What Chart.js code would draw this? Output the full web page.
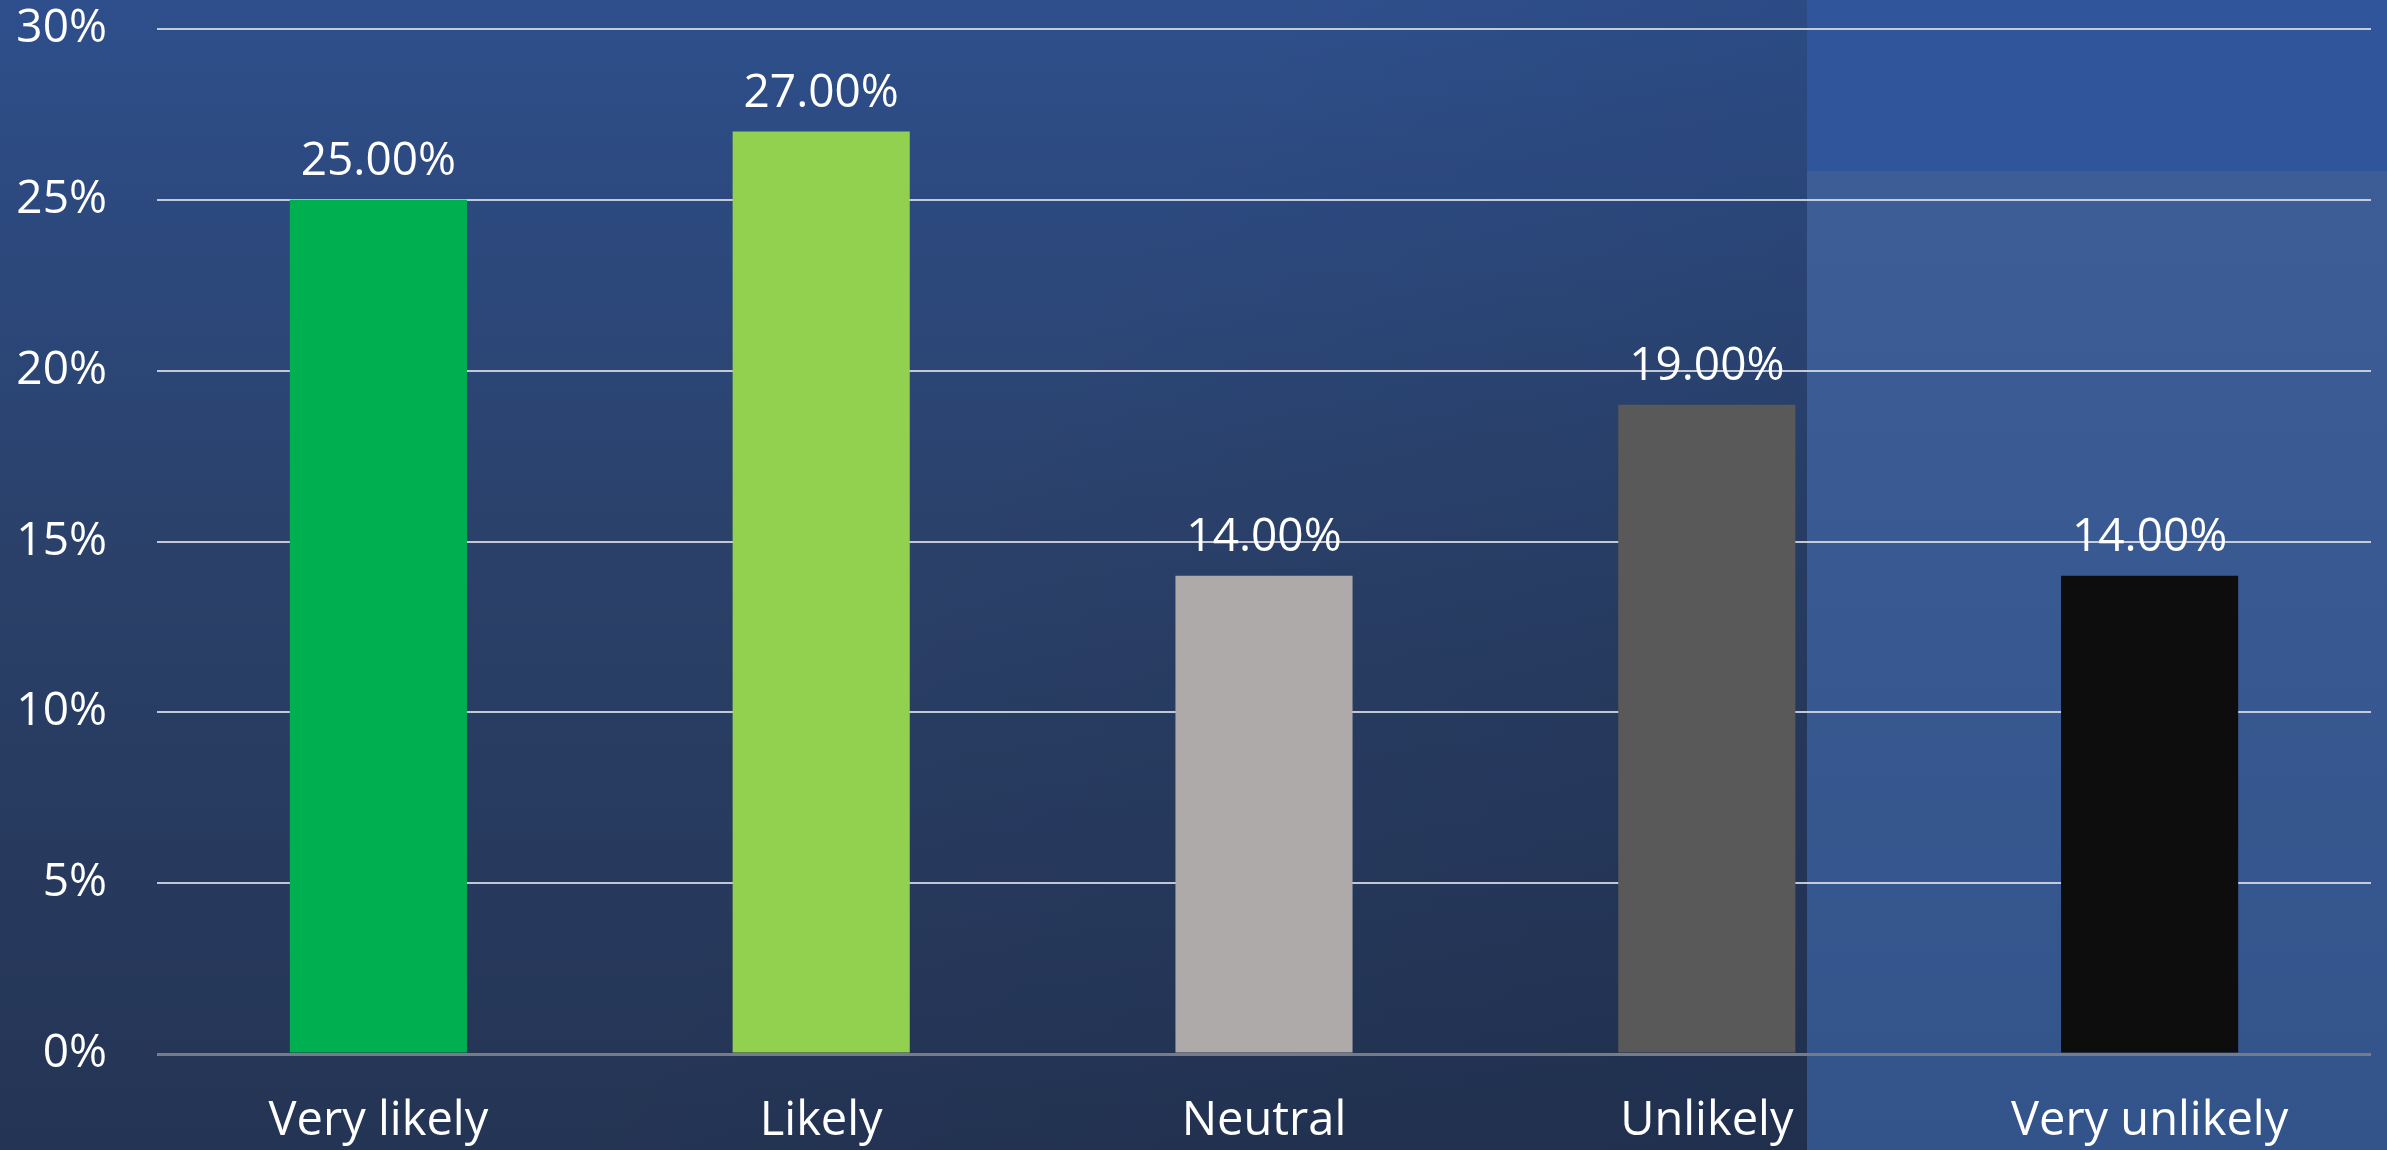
<!DOCTYPE html>
<html>
<head>
<meta charset="utf-8">
<script src="https://cdn.jsdelivr.net/npm/chart.js@4/dist/chart.umd.min.js"></script>
<style>
  html, body { margin: 0; padding: 0; overflow: hidden; background: #263a60; }
  #wrap { position: relative; width: 2387px; height: 1150px; }
</style>
</head>
<body>
<div id="wrap"><canvas id="grafico"></canvas></div>
<script>
// dados do gráfico
const categorias = ["Very likely", "Likely", "Neutral", "Unlikely", "Very unlikely"];
const percentuais = [25, 27, 14, 19, 14];
const coresBarras = ["#00b050", "#92d050", "#aeaaaa", "#595959", "#0d0d0d"];
const ticksY = [0, 5, 10, 15, 20, 25, 30];

const fonte = "'Open Sans', sans-serif";

// fundo azul com painel mais claro à direita
const fundo = {
  id: "fundo",
  beforeDraw(chart) {
    const ctx = chart.ctx, w = chart.width, h = chart.height;
    const corte = 1807;
    ctx.save();
    let g = ctx.createLinearGradient(0, 0, 0, h);
    g.addColorStop(0, "#2e4f8c");
    g.addColorStop(0.5, "#2a4068");
    g.addColorStop(1, "#243454");
    ctx.fillStyle = g;
    ctx.fillRect(0, 0, corte, h);
    // leve escurecimento para baixo/direita
    let g2 = ctx.createLinearGradient(0, 0, corte, h);
    g2.addColorStop(0, "rgba(10,20,40,0)");
    g2.addColorStop(0.5, "rgba(10,20,40,0)");
    g2.addColorStop(1, "rgba(10,20,40,0.15)");
    ctx.fillStyle = g2;
    ctx.fillRect(0, 0, corte, h);
    ctx.fillStyle = "#31559a";
    ctx.fillRect(corte, 0, w - corte, 171);
    let g3 = ctx.createLinearGradient(0, 171, 0, h);
    g3.addColorStop(0, "#3c5d96");
    g3.addColorStop(1, "#33538b");
    ctx.fillStyle = g3;
    ctx.fillRect(corte, 171, w - corte, h - 171);
    ctx.restore();
  }
};

// rótulos de valor em cima das barras
const rotulos = {
  id: "rotulos",
  afterDatasetsDraw(chart) {
    const ctx = chart.ctx;
    const meta = chart.getDatasetMeta(0);
    ctx.save();
    ctx.fillStyle = "#ffffff";
    ctx.font = "46px " + fonte;
    ctx.textAlign = "center";
    ctx.textBaseline = "alphabetic";
    meta.data.forEach((barra, i) => {
      ctx.fillText(percentuais[i].toFixed(2) + "%", barra.x, barra.y - 25);
    });
    ctx.restore();
  }
};

const config = {
  type: "bar",
  data: {
    labels: categorias,
    datasets: [{
      data: percentuais,
      backgroundColor: coresBarras,
      barPercentage: 0.4,
      categoryPercentage: 1.0
    }]
  },
  options: {
    responsive: true,
    maintainAspectRatio: false,
    animation: false,
    layout: { padding: { left: 13, right: 16, top: 29, bottom: 0 } },
    plugins: { legend: { display: false }, tooltip: { enabled: false } },
    scales: {
      x: {
        grid: { display: false, drawTicks: false },
        border: { display: false },
        ticks: { color: "#ffffff", font: { family: fonte, size: 47 }, padding: 39, maxRotation: 0 },
        afterFit(s) { s.paddingLeft = 0; s.paddingRight = 0; s.height = 96; }
      },
      y: {
        min: 0,
        max: 30,
        afterBuildTicks(scale) { scale.ticks = ticksY.map(v => ({ value: v })); },
        afterFit(s) { s.paddingTop = 0; s.paddingBottom = 0; s.width = 144; },
        grid: {
          drawTicks: false,
          color: c => c.tick.value === 0 ? "#767b88" : "rgba(222,224,230,0.85)",
          lineWidth: c => c.tick.value === 0 ? 3 : 2
        },
        border: { display: false },
        ticks: {
          color: "#ffffff",
          font: { family: fonte, size: 46 },
          padding: 50,
          callback: v => v + "%"
        }
      }
    }
  },
  plugins: [fundo, rotulos]
};

const grafico = new Chart(document.getElementById("grafico"), config);
</script>
</body>
</html>
